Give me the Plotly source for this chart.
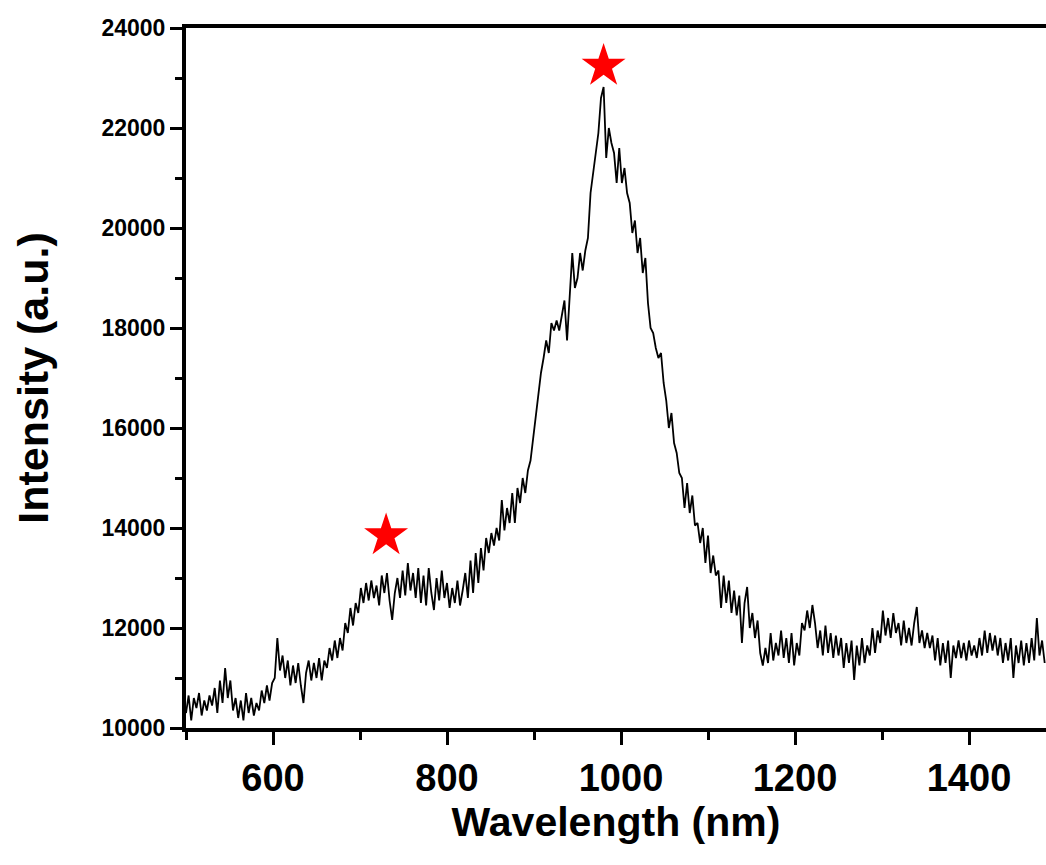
import plotly.graph_objects as go

# Wavelength grid of the spectrometer (nm), 3 nm steps
wavelength = list(range(500, 1490, 3))

# Measured intensity (a.u.), one row per 30 nm
intensity = [
    10300, 10650, 10150, 10600, 10400, 10700, 10250, 10550, 10350, 10650,  # 500
    10450, 10800, 10300, 10950, 10500, 11200, 10600, 10950, 10350, 10600,  # 530
    10200, 10550, 10150, 10700, 10300, 10600, 10250, 10500, 10350, 10750,  # 560
    10500, 10850, 10550, 10900, 11000, 11800, 11150, 11450, 11000, 11350,  # 590
    10850, 11250, 10900, 11300, 10850, 10500, 11100, 11350, 10950, 11300,  # 620
    11000, 11400, 10950, 11350, 11200, 11600, 11350, 11750, 11400, 11800,  # 650
    11550, 12100, 11900, 12400, 12050, 12500, 12300, 12800, 12500, 12900,  # 680
    12550, 12950, 12600, 12850, 12450, 13050, 12700, 13100, 12550, 12160,  # 710
    12700, 13000, 12600, 13150, 12650, 13300, 12750, 13100, 12600, 13200,  # 740
    12500, 13050, 12450, 13200, 12700, 12360, 13000, 12550, 13150, 12600,  # 770
    12900, 12400, 12800, 12500, 12950, 12450, 12750, 13100, 12600, 13350,  # 800
    12700, 13500, 12900, 13600, 13150, 13800, 13500, 13900, 13650, 14000,  # 830
    13750, 14560, 13950, 14400, 14100, 14700, 14100, 14800, 14500, 15000,  # 860
    14700, 15150, 15350, 15800, 16200, 16700, 17100, 17400, 17750, 17500,  # 890
    18100, 17950, 18150, 17950, 18300, 18550, 17750, 18600, 19500, 18800,  # 920
    19000, 19500, 19150, 19550, 19800, 20700, 21100, 21400, 21900, 22600,  # 950
    22820, 21400, 22000, 21700, 21500, 20900, 21600, 20900, 21200, 20700,  # 980
    20500, 19900, 20150, 19500, 19800, 19100, 19400, 18500, 18000, 17900,  # 1010
    17600, 17400, 17500, 16900, 16550, 16000, 16300, 15700, 15500, 15100,  # 1040
    15000, 14400, 14900, 14300, 14650, 14050, 14100, 13700, 14000, 13300,  # 1070
    13850, 13100, 13450, 13050, 13150, 12400, 13050, 12500, 12950, 12300,  # 1100
    12750, 12250, 12650, 11700, 12500, 12820, 12000, 12300, 11800, 12150,  # 1130
    11500, 11250, 11600, 11300, 11900, 11350, 11700, 11450, 11950, 11400,  # 1160
    11800, 11300, 11900, 11250, 11700, 11450, 12100, 11950, 12350, 12000,  # 1190
    12460, 12100, 11600, 11950, 11450, 12050, 11500, 11900, 11400, 11850,  # 1220
    11450, 11800, 11200, 11700, 11300, 11750, 10960, 11650, 11250, 11800,  # 1250
    11300, 11650, 11450, 12000, 11500, 11950, 11700, 12350, 11850, 12200,  # 1280
    11800, 12300, 11900, 12100, 11650, 12150, 11700, 12000, 11650, 12100,  # 1310
    12420, 11700, 11950, 11600, 11900, 11600, 11850, 11350, 11800, 11250,  # 1340
    11700, 11300, 11750, 11000, 11650, 11400, 11750, 11400, 11700, 11350,  # 1370
    11750, 11450, 11650, 11400, 11800, 11450, 11950, 11500, 11900, 11550,  # 1400
    11850, 11450, 11800, 11300, 11700, 11350, 11800, 11000, 11650, 11300,  # 1430
    11750, 11250, 11700, 11300, 11800, 11350, 12200, 11450, 11750, 11300,  # 1460
]

# Peaks marked with stars
peak_wavelength = [730, 980]
peak_intensity = [13850, 23240]

font_main = "Liberation Sans, Arial, sans-serif"

fig = go.Figure()
fig.add_trace(go.Scatter(
    x=wavelength, y=intensity, mode="lines",
    line=dict(color="black", width=1.8),
    showlegend=False, hoverinfo="skip",
))
fig.add_trace(go.Scatter(
    x=peak_wavelength, y=peak_intensity, mode="markers",
    marker=dict(symbol="star", size=33, color="#ff0000", line=dict(width=0)),
    showlegend=False, cliponaxis=False,
))

fig.update_layout(
    width=1046, height=865,
    margin=dict(l=186, r=0, t=28, b=137),
    plot_bgcolor="white", paper_bgcolor="white",
    xaxis=dict(
        range=[500, 1488.5],
        tickmode="array", tickvals=[600, 800, 1000, 1200, 1400],
        ticks="outside", ticklen=13, tickwidth=3, tickcolor="black",
        minor=dict(tickmode="linear", tick0=500, dtick=100, ticks="outside",
                   ticklen=8, tickwidth=3, tickcolor="black"),
        showgrid=False, zeroline=False,
        showline=True, linecolor="black", linewidth=4, mirror=True,
        tickfont=dict(family=font_main, size=38, color="black", weight="bold"),
        title=dict(text="Wavelength (nm)", standoff=4,
                   font=dict(family=font_main, size=41, color="black", weight="bold")),
        automargin=False,
    ),
    yaxis=dict(
        range=[10000, 24000],
        tickmode="linear", tick0=10000, dtick=2000, tickformat="d",
        ticks="outside", ticklen=12, tickwidth=3, tickcolor="black",
        minor=dict(tickmode="linear", tick0=10000, dtick=1000, ticks="outside",
                   ticklen=7, tickwidth=3, tickcolor="black"),
        showgrid=False, zeroline=False,
        showline=True, linecolor="black", linewidth=4, mirror=False,
        tickfont=dict(family=font_main, size=23, color="black", weight="bold"),
        title=dict(text="Intensity (a.u.)", standoff=40,
                   font=dict(family=font_main, size=43, color="black", weight="bold")),
        automargin=False,
    ),
)

fig.write_html("out.html")
